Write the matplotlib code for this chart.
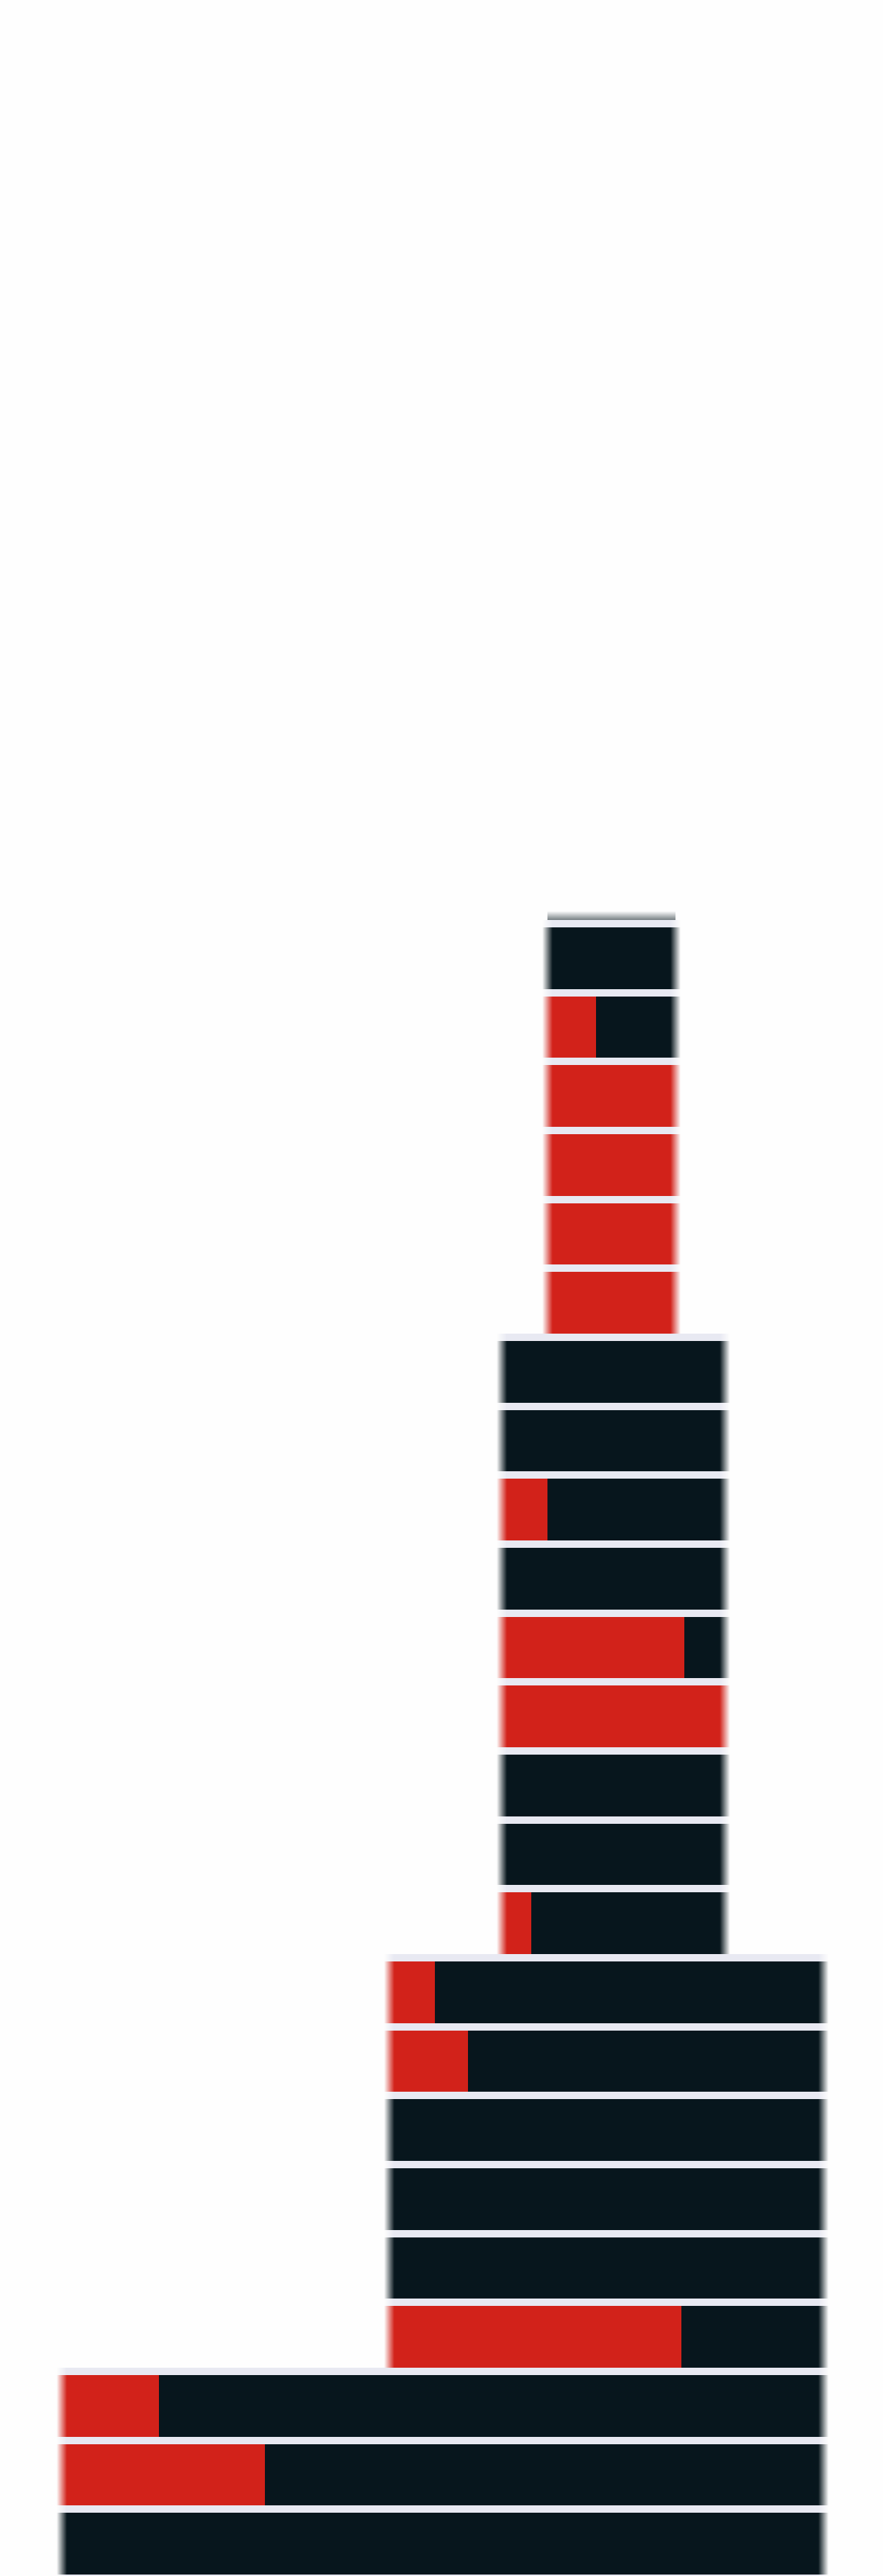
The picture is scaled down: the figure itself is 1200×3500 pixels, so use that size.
import matplotlib
matplotlib.use("Agg")
import matplotlib.pyplot as plt
import numpy as np

# ---- data ----
# tiers of the tower, from top to bottom
tier_left = [744, 682, 529, 84]      # left start of each tier
tier_width = [174, 303, 590, 1035]   # total length of each tier
tier_rows = [6, 9, 6, 4]             # rows in each tier (last one cut by the edge)

# red part of every row, top to bottom
red_values = [0, 66, 174, 174, 174, 174,
              0, 0, 62, 0, 248, 303, 0, 0, 40,
              62, 107, 0, 0, 0, 397,
              132, 276, 0, 0]

RED = "#d2221a"
DARK = "#07161d"
BAND = "#e8e9f2"
BG = "#fefefe"

row_left = np.repeat(tier_left, tier_rows).astype(float)
row_width = np.repeat(tier_width, tier_rows).astype(float)
red = np.array(red_values, dtype=float)
black = row_width - red
row_right = row_left + row_width
n = len(red)
y = np.arange(n)

left_col = [RED if r > 0 else DARK for r in red]
right_col = [DARK if b > 0 else RED for b in black]

fig = plt.figure(figsize=(12, 35), dpi=100, facecolor=BG)
ax = fig.add_axes([0, 0, 1, 1])
ax.set_facecolor(BG)

band = 0.107
# separator band at the top of each row
ax.barh(y, row_width, left=row_left, height=band, align="edge",
        color=BAND, linewidth=0)
# red then dark portion
ax.barh(y + band, red, left=row_left, height=1 - band, align="edge",
        color=RED, linewidth=0)
ax.barh(y + band, black, left=row_left + red, height=1 - band, align="edge",
        color=DARK, linewidth=0)

# soft outer edges (the reference has blurred tower outlines)
soft = 7
for k in range(soft):
    a = 0.5 * (1 - (k + 0.5) / soft)
    # outward fade
    for edge, sign, cols in ((row_left, -1, left_col), (row_right, 1, right_col)):
        start = edge + (k if sign > 0 else -(k + 1))
        ax.barh(y, 1, left=start, height=band, align="edge",
                color=BAND, alpha=a, linewidth=0)
        ax.barh(y + band, 1, left=start, height=1 - band, align="edge",
                color=cols, alpha=a, linewidth=0)
    # inward fade
    ax.barh(y, 1, left=row_left + k, height=1, align="edge",
            color=BG, alpha=a, linewidth=0)
    ax.barh(y, 1, left=row_right - (k + 1), height=1, align="edge",
            color=BG, alpha=a, linewidth=0)

# faint dark cap above the top row
pitch = 93.67
for k in range(12):
    a = 0.55 * (1 - (k + 0.5) / 12)
    ax.barh(y[0] - (k + 1) / pitch, row_width[0], left=row_left[0],
            height=1 / pitch, align="edge", color=DARK, alpha=a, linewidth=0)

ax.set_xlim(0, 1200)
ax.set_ylim((3500 - 1250) / pitch, -1250 / pitch)
ax.axis("off")

fig.savefig("out.png", dpi=100, facecolor=BG)
